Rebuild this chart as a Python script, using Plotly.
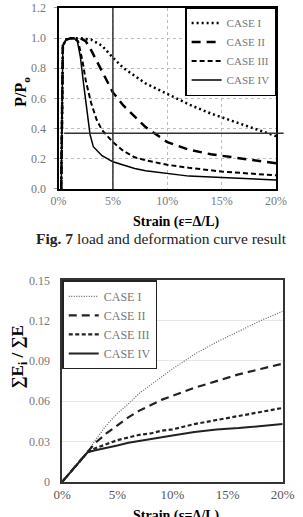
import plotly.graph_objects as go

# ---------------- data: Fig. 7 (P/Po vs strain %) ----------------
names = ["CASE I", "CASE II", "CASE III", "CASE IV"]

top_x1 = [0.25, 0.4, 0.7, 1.2, 2.0, 3.0, 4.0, 5.0, 6.0, 7.0, 8.0, 10.0, 12.0, 14.0, 16.0, 18.0, 20.0]
top_y1 = [0.0, 0.95, 0.99, 1.0, 1.0, 0.99, 0.95, 0.87, 0.80, 0.75, 0.70, 0.63, 0.56, 0.50, 0.45, 0.40, 0.35]

top_x2 = [0.25, 0.4, 0.7, 1.2, 2.0, 2.5, 3.0, 4.0, 5.0, 6.0, 7.0, 8.0, 10.0, 12.0, 14.0, 16.0, 18.0, 20.0]
top_y2 = [0.0, 0.95, 0.99, 1.0, 1.0, 0.98, 0.92, 0.78, 0.64, 0.55, 0.48, 0.41, 0.31, 0.26, 0.23, 0.21, 0.19, 0.17]

top_x3 = [0.25, 0.4, 0.7, 1.2, 1.8, 2.2, 2.5, 3.0, 3.5, 4.0, 5.0, 6.0, 7.0, 8.0, 10.0, 12.0, 15.0, 20.0]
top_y3 = [0.0, 0.95, 0.99, 1.0, 0.98, 0.85, 0.72, 0.57, 0.46, 0.39, 0.31, 0.25, 0.21, 0.19, 0.16, 0.14, 0.115, 0.09]

top_x4 = [0.25, 0.4, 0.7, 1.2, 1.7, 2.0, 2.3, 2.6, 2.9, 3.2, 4.0, 5.0, 6.0, 7.0, 8.0, 10.0, 12.0, 15.0, 20.0]
top_y4 = [0.0, 0.95, 0.99, 1.0, 0.99, 0.88, 0.70, 0.52, 0.36, 0.28, 0.22, 0.18, 0.155, 0.135, 0.12, 0.10, 0.085, 0.075, 0.06]

vline_strain = 5.0
hline_level = 0.37

# ---------------- data: energy ratio vs strain % ----------------
bot_x = [0.0, 2.3, 3.0, 4.0, 5.0, 6.0, 7.0, 8.0, 9.0, 10.0, 12.0, 14.0, 16.0, 18.0, 20.0]
bot_y1 = [0.0, 0.022, 0.031, 0.042, 0.051, 0.058, 0.066, 0.072, 0.078, 0.084, 0.095, 0.104, 0.112, 0.120, 0.127]
bot_y2 = [0.0, 0.022, 0.029, 0.036, 0.042, 0.048, 0.053, 0.057, 0.061, 0.064, 0.070, 0.075, 0.080, 0.084, 0.088]
bot_y3 = [0.0, 0.022, 0.025, 0.028, 0.031, 0.033, 0.035, 0.036, 0.038, 0.039, 0.043, 0.046, 0.049, 0.052, 0.055]
bot_y4 = [0.0, 0.022, 0.0235, 0.025, 0.027, 0.029, 0.0305, 0.032, 0.033, 0.0345, 0.037, 0.039, 0.040, 0.0415, 0.043]

x_ticks = [0, 5, 10, 15, 20]
x_ticklabels = ["0%", "5%", "10%", "15%", "20%"]
top_yticks = [0.0, 0.2, 0.4, 0.6, 0.8, 1.0, 1.2]
top_yticklabels = ["0.0", "0.2", "0.4", "0.6", "0.8", "1.0", "1.2"]
bot_yticks = [0, 0.03, 0.06, 0.09, 0.12, 0.15]
bot_yticklabels = ["0", "0.03", "0.06", "0.09", "0.12", "0.15"]

W, H = 303, 517
SERIF = "Liberation Serif, Times New Roman, DejaVu Serif, serif"

top_dom_x = [53 / W, 286 / W]
top_dom_y = [(H - 187) / H, (H - 1) / H]
bot_dom_x = [57 / W, 293 / W]
bot_dom_y = [(H - 488) / H, (H - 281) / H]

fig = go.Figure()

top_styles = [
    dict(color="black", width=2.5, dash="2px,3px"),
    dict(color="black", width=2.5, dash="9px,6px"),
    dict(color="black", width=2, dash="5px,3px"),
    dict(color="black", width=1.5, dash="solid"),
]
top_data = [(top_x1, top_y1), (top_x2, top_y2), (top_x3, top_y3), (top_x4, top_y4)]
for n, (xs, ys), st in zip(names, top_data, top_styles):
    fig.add_trace(go.Scatter(x=xs, y=ys, mode="lines", name=n, line=st,
                             xaxis="x", yaxis="y", legend="legend"))

bot_styles = [
    dict(color="#666666", width=1.2, dash="1px,1.5px"),
    dict(color="#222222", width=2.2, dash="8px,5px"),
    dict(color="#222222", width=2.2, dash="4px,2.5px"),
    dict(color="#222222", width=2, dash="solid"),
]
for n, ys, st in zip(names, [bot_y1, bot_y2, bot_y3, bot_y4], bot_styles):
    fig.add_trace(go.Scatter(x=bot_x, y=ys, mode="lines", name=n, line=st,
                             xaxis="x2", yaxis="y2", legend="legend2"))

tickfont = dict(family=SERIF, size=12, color="#777777")

fig.update_layout(
    width=W, height=H,
    margin=dict(l=0, r=0, t=0, b=0),
    paper_bgcolor="white", plot_bgcolor="white",
    showlegend=True,
    font=dict(family=SERIF),
    xaxis=dict(domain=top_dom_x, anchor="y", range=[0, 20], tickvals=x_ticks, ticktext=x_ticklabels,
               tickfont=tickfont, showgrid=True, gridcolor="#bbbbbb", griddash="dot", gridwidth=1,
               showline=True, linecolor="black", linewidth=1.5, mirror=True, ticks="", zeroline=False),
    yaxis=dict(domain=top_dom_y, anchor="x", range=[0, 1.2], tickvals=top_yticks, ticktext=top_yticklabels,
               tickfont=tickfont, showgrid=True, gridcolor="#bbbbbb", griddash="dot", gridwidth=1,
               showline=True, linecolor="black", linewidth=2, mirror=True, ticks="outside", ticklen=3,
               tickcolor="#999999", zeroline=False, ticklabelstandoff=5),
    xaxis2=dict(domain=bot_dom_x, anchor="y2", range=[0, 20], tickvals=x_ticks, ticktext=x_ticklabels,
                tickfont=dict(family=SERIF, size=13, color="#555555"), showgrid=False,
                showline=True, linecolor="#333333", linewidth=1.5, mirror=True, ticks="", zeroline=False),
    yaxis2=dict(domain=bot_dom_y, anchor="x2", range=[0, 0.15], tickvals=bot_yticks, ticktext=bot_yticklabels,
                tickfont=tickfont, showgrid=True, gridcolor="#e6e6e6", gridwidth=1,
                showline=True, linecolor="#333333", linewidth=1.5, mirror=True, ticks="", zeroline=False,
                ticklabelstandoff=8),
    legend=dict(x=top_dom_x[1], xanchor="right", y=1.0, yanchor="top",
                bgcolor="white", bordercolor="black", borderwidth=1.5,
                font=dict(family=SERIF, size=11, color="#777777"), tracegroupgap=0,
                itemwidth=30),
    legend2=dict(x=bot_dom_x[0], xanchor="left", y=bot_dom_y[1], yanchor="top",
                 bgcolor="white", bordercolor="#222222", borderwidth=1.5,
                 font=dict(family=SERIF, size=12, color="#777777"), tracegroupgap=0,
                 itemwidth=30),
)

# reference lines in the top chart
fig.add_shape(type="line", xref="x", yref="y", x0=vline_strain, x1=vline_strain, y0=0, y1=1.2,
              line=dict(color="#333333", width=1.5))
hy = top_dom_y[0] + hline_level / 1.2 * (top_dom_y[1] - top_dom_y[0])
fig.add_shape(type="line", xref="paper", yref="paper", x0=59 / W, x1=294 / W, y0=hy, y1=hy,
              line=dict(color="#333333", width=1.5))

def px_ann(text, x, y, size, angle=0, color="black"):
    fig.add_annotation(text=text, xref="paper", yref="paper", x=x / W, y=(H - y) / H,
                       xanchor="center", yanchor="middle", showarrow=False, textangle=angle,
                       font=dict(family=SERIF, size=size, color=color))

px_ann("<b>P/P<sub>o</sub></b>", 14, 87, 16, -90)
px_ann("<b>Strain (ε=Δ/L)</b>", 179, 221, 14)
px_ann("<b>Fig. 7</b> load and deformation curve result", 163, 238, 15.5, 0, "#222222")
px_ann("<b>∑E<sub>i</sub> / ∑E</b>", 11, 360, 17, -90)
px_ann("<b>Strain (ε=Δ/L)</b>", 179, 523, 14)

fig.write_html("out.html")
